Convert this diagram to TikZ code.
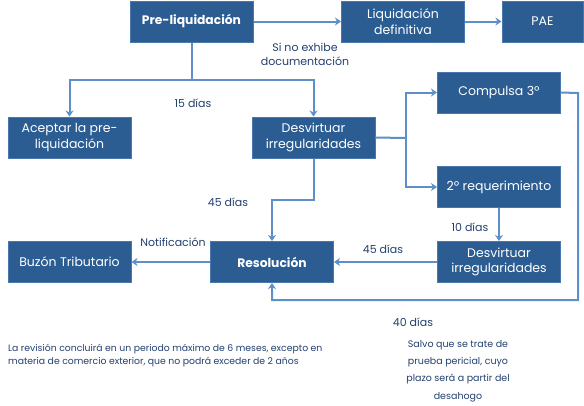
\documentclass[tikz,border=0pt]{standalone}
\usepackage{fontspec}
\setmainfont{Poppins}
\usetikzlibrary{arrows.meta}
\definecolor{boxfill}{HTML}{2B5D93}
\definecolor{boxline}{HTML}{4A78AE}
\definecolor{arrowc}{HTML}{5E8FC8}
\definecolor{labelc}{HTML}{24406E}
\tikzset{
  box/.style={draw=boxline, line width=1pt, fill=boxfill, text=white, minimum width=123pt, minimum height=41pt, align=center, inner sep=1pt, font=\fontsize{12.5}{15.5}\selectfont},
  conn/.style={draw=arrowc, line width=2pt},
  arr/.style={conn, -{Stealth[length=6pt,width=8pt]}},
  lbl/.style={text=labelc, font=\fontsize{11}{14.5}\selectfont, align=center, inner sep=0pt}
}
\begin{document}
\begin{tikzpicture}[x=1pt,y=-1pt]
\useasboundingbox (0,0) rectangle (584,405);
\node[box, font=\bfseries\fontsize{12.3}{14}\selectfont] (pre) at (191.5,21.5) {Pre-liquidación};
\node[box] (liq) at (403,21.5) {Liquidación\\definitiva};
\node[box, minimum width=81pt] (pae) at (542.5,21.5) {PAE};
\node[box] (acep) at (69.5,137.5) {Aceptar la pre-\\liquidación};
\node[box] (des1) at (313.5,137.5) {Desvirtuar\\irregularidades};
\node[box] (comp) at (499,92.5) {Compulsa 3º};
\node[box] (req) at (499,187) {2º requerimiento};
\node[box] (des2) at (499,262) {Desvirtuar\\irregularidades};
\node[box, font=\bfseries\fontsize{12.3}{14}\selectfont] (res) at (272,262) {Resolución};
\node[box] (buz) at (69.5,262) {Buzón Tributario};

\coordinate (split) at (191.5,80);
\coordinate (fork) at (406,138);
\coordinate (cr) at (578,93);
\coordinate (br) at (578,300);
\coordinate (bl) at (272,300);

\draw[arr] (pre) -- (liq);
\draw[arr] (liq) -- (pae);
\draw[conn] (pre.south) -- (split);
\draw[arr] (split) -| (acep.north);
\draw[arr] (split) -| (des1.north);
\draw[conn] (des1.east) -- (fork);
\draw[arr] (fork) |- (comp.west);
\draw[arr] (fork) |- (req.west);
\draw[arr] (req) -- (des2);
\draw[arr] (des2) -- (res);
\draw[arr] (des1.south) |- (272,200) -- (res.north);
\draw[arr] (comp.east) -- (cr) -- (br) -- (bl) -- (res.south);
\draw[arr] (res) -- (buz);

\node[lbl] (l1) at (305,54.5) {Si no exhibe\\documentación};
\node[lbl] (l2) at (193,103) {15 días};
\node[lbl] (l3) at (228,202) {45 días};
\node[lbl] (l4) at (173,242) {Notificación};
\node[lbl] (l5) at (383,249) {45 días};
\node[lbl] (l6) at (470,227) {10 días};
\node[lbl] (l7) at (413,322) {40 días};
\node[lbl, font=\fontsize{9.3}{13}\selectfont, align=left, anchor=west] (l8) at (8,355.5) {La revisión concluirá en un periodo máximo de 6 meses, excepto en\\materia de comercio exterior, que no podrá exceder de 2 años};
\node[lbl, font=\fontsize{9.5}{17.3}\selectfont] (l9) at (458,371) {Salvo que se trate de\\prueba pericial, cuyo\\plazo será a partir del\\desahogo};
\end{tikzpicture}
\end{document}
